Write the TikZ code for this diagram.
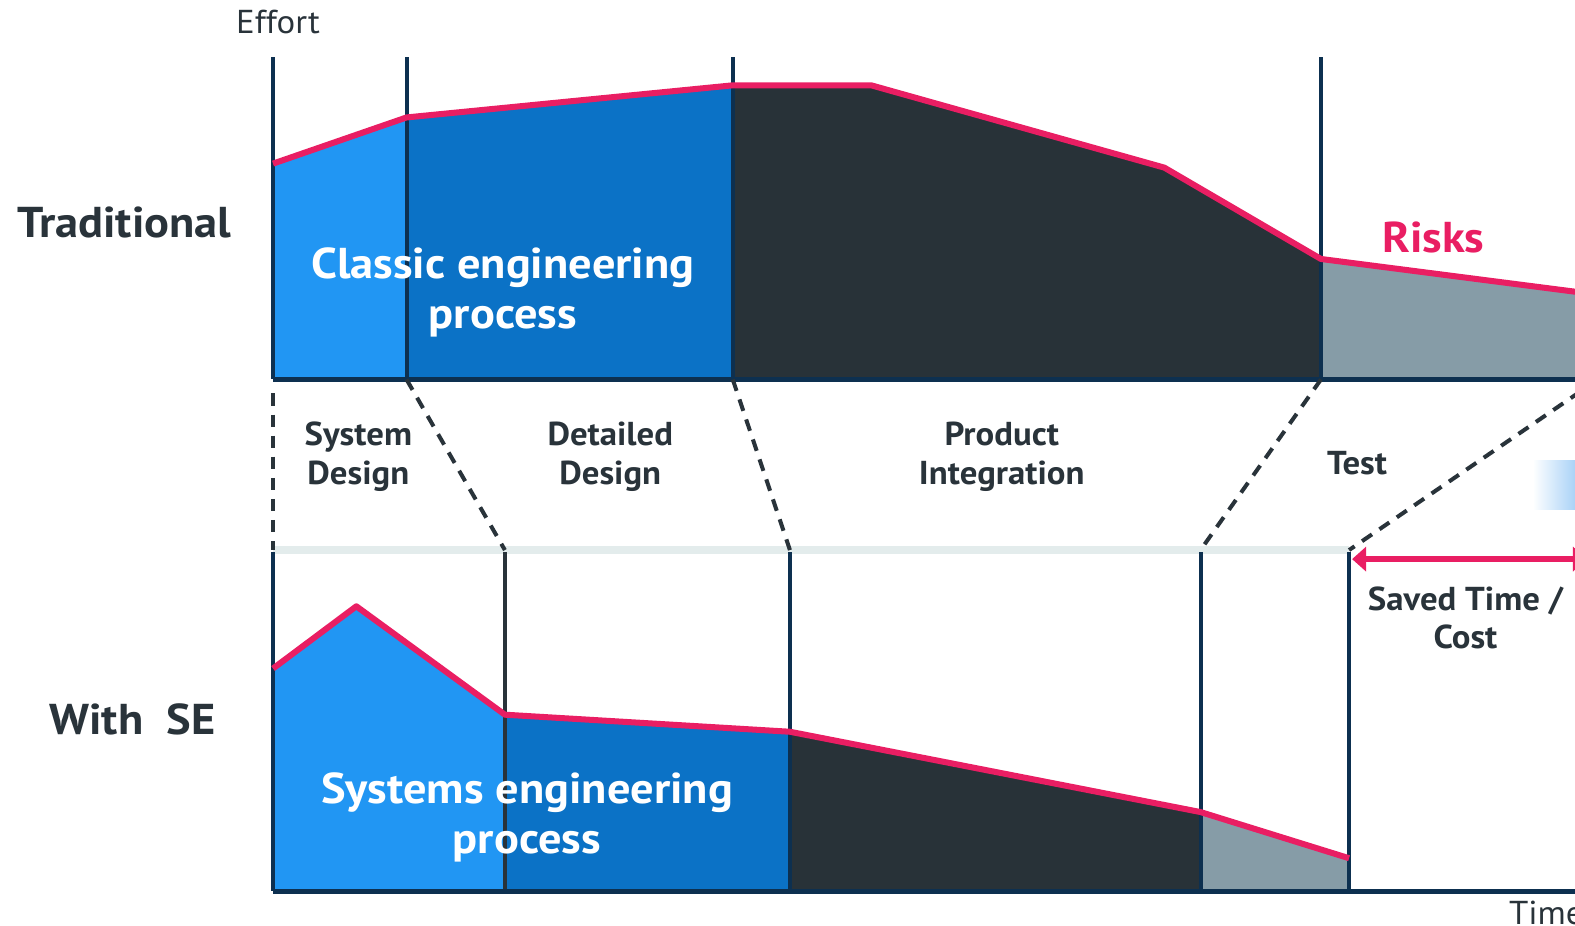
\documentclass[tikz,border=0pt]{standalone}
\usepackage{fontspec}
\setmainfont{PT Sans}[FakeStretch=1.05]
\newfontfamily\widefont{PT Sans}[FakeStretch=1.075]
\usetikzlibrary{arrows.meta}
\definecolor{sdblue}{HTML}{2196F3}
\definecolor{ddblue}{HTML}{0B72C6}
\definecolor{intdark}{HTML}{283238}
\definecolor{testgray}{HTML}{869CA7}
\definecolor{riskpink}{HTML}{E91E63}
\definecolor{axisnavy}{HTML}{0D3050}
\definecolor{labelgray}{HTML}{29333A}
\definecolor{splitgray}{HTML}{E3ECEC}
\definecolor{fadeblue}{HTML}{9ECCF6}

\begin{document}
\begin{tikzpicture}[
    x = 0.5pt, y = -0.5pt,
    phase/.style = {draw=axisnavy, line width=2pt},
    effort/.style = {draw=riskpink, line width=3pt, line join=round},
    axis/.style = {draw=axisnavy, line width=2.5pt},
    link/.style = {draw=labelgray, line width=2pt, dash pattern=on 6pt off 4.5pt},
    big/.style = {font=\widefont\bfseries\fontsize{21.5}{25}\selectfont, align=center},
    small/.style = {font=\bfseries\fontsize{16.5}{19}\selectfont, text=labelgray, align=center}]

\useasboundingbox (0,0) rectangle (1569.1,921.6);
\clip (0,0) rectangle (1575,925);

% phase boundaries
\coordinate (t1) at (272,378);  \coordinate (b1) at (272,548);
\coordinate (t2) at (405,378);  \coordinate (b2) at (503,548);
\coordinate (t3) at (730,378);  \coordinate (b3) at (787,548);
\coordinate (t4) at (1316,378); \coordinate (b4) at (1196,548);
\coordinate (t5) at (1592,378); \coordinate (b5) at (1344,548);

% traditional
\fill[sdblue] (272,163) -- (405,117) -- (t2) -- (t1) -- cycle;
\fill[ddblue] (405,117) -- (730,85) -- (t3) -- (t2) -- cycle;
\fill[intdark] (730,85) -- (868,85) -- (1160,167) -- (1316,258) -- (t4) -- (t3) -- cycle;
\fill[testgray] (1316,258) -- (1580,292) -- (1580,378) -- (t4) -- cycle;
\foreach \x in {272,405,730,1316}
    \draw[phase] (\x,57) -- (\x,378);
\draw[effort] (272,163) -- (405,117) -- (730,85) -- (868,85) -- (1160,167)
              -- (1316,258) -- (1580,292);
\draw[axis] (t1) -- (1580,378);

% with SE
\fill[sdblue] (272,666) -- (355,604) -- (503,712) -- (503,888) -- (272,888) -- cycle;
\fill[ddblue] (503,712) -- (787,729) -- (787,888) -- (503,888) -- cycle;
\fill[intdark] (787,729) -- (1196,809) -- (1196,888) -- (787,888) -- cycle;
\fill[testgray] (1196,809) -- (1344,855) -- (1344,888) -- (1196,888) -- cycle;
\draw[splitgray, line width=4pt] (b1) -- (b5);
\foreach \x in {272,787,1196,1344}
    \draw[phase] (\x,550) -- (\x,888);
\draw[phase, draw=labelgray] (503,550) -- (503,888);
\draw[effort] (272,666) -- (355,604) -- (503,712) -- (787,729) -- (1196,809) -- (1344,855);
\draw[axis] (272,888) -- (1580,888);

% links between phases
\draw[link] (272,392) -- (b1);
\draw[link] (t2) -- (b2);
\draw[link] (t3) -- (b3);
\draw[link] (t4) -- (b4);
\draw[link] (t5) -- (b5);

\shade[left color=white, right color=fadeblue] (1527,459) rectangle (1575,508);
\draw[riskpink, line width=3pt, {Triangle[length=7pt,width=12pt]}-{Triangle[length=7pt,width=12pt]}]
    (1347,557) -- (1581,557);

% labels
\node[font=\fontsize{16.5}{19}\selectfont, text=labelgray] (effort) at (277,22) {Effort};
\node[font=\fontsize{16.5}{19}\selectfont, text=labelgray, anchor=west, inner sep=0pt] (time) at (1503,910) {Time};
\node[big, text=labelgray] (trad) at (124,222) {Traditional};
\node[big, text=labelgray] (withse) at (132,717) {With~~SE};
\node[big, text=white] (classic) at (501,291) {Classic engineering\\process};
\node[big, text=white] (sysproc) at (525,814) {Systems engineering\\process};
\node[big, text=riskpink] (risks) at (1428,237) {Risks};
\node[small] (sysdes) at (357,455) {System\\Design};
\node[small] (detdes) at (608,455) {Detailed\\Design};
\node[small] (prodint) at (998,455) {Product\\Integration};
\node[small] (test) at (1352,461) {Test};
\node[small] (saved) at (1460,616) {Saved Time /\\Cost};
\end{tikzpicture}
\end{document}
